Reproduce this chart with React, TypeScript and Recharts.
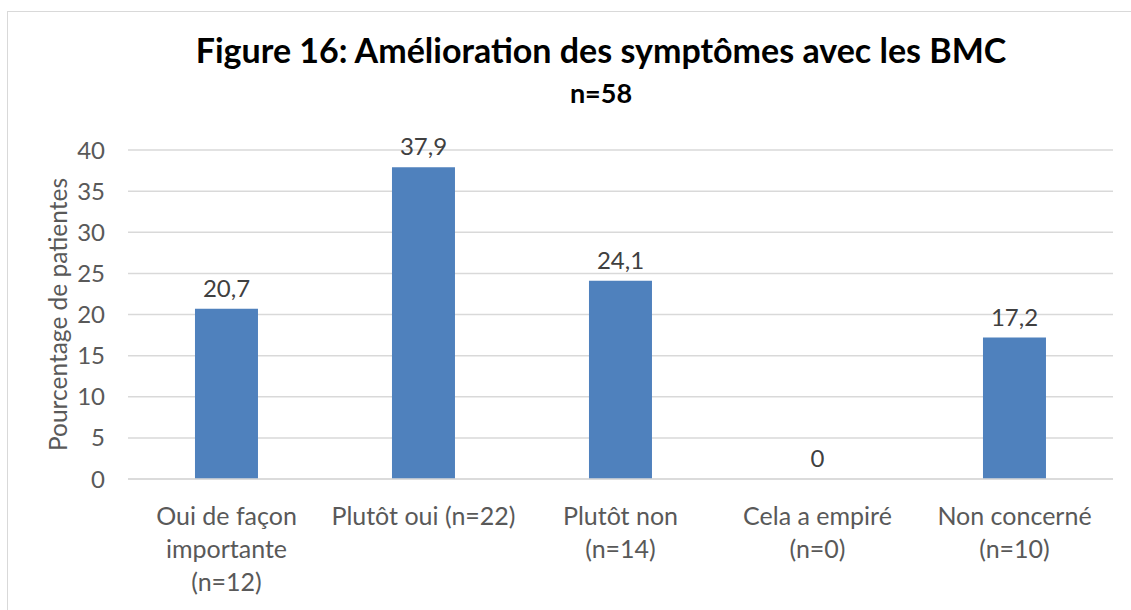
import { ComposedChart, Bar, Line, XAxis, YAxis, CartesianGrid, LabelList } from "recharts";

const categories = [
  "Oui de façon\nimportante\n(n=12)",
  "Plutôt oui (n=22)",
  "Plutôt non\n(n=14)",
  "Cela a empiré\n(n=0)",
  "Non concerné\n(n=10)",
];
const percentages = [20.7, 37.9, 24.1, 0, 17.2];
const yTicks = [0, 5, 10, 15, 20, 25, 30, 35, 40];

const rows = categories.map((name, i) => ({ name, value: percentages[i] }));

const FONT = "Lato, sans-serif";
const GRAY = "#595959";

function CategoryTick({ x, y, payload }: any) {
  const lines = String(payload.value).split("\n");
  return (
    <text x={x} y={y + 38} textAnchor="middle" fill={GRAY} fontSize={25} fontFamily={FONT}>
      {lines.map((l, i) => (
        <tspan key={i} x={x} dy={i === 0 ? 0 : 33}>
          {l}
        </tspan>
      ))}
    </text>
  );
}

export default function App() {
  return (
    <div style={{ position: "absolute", left: 0, top: 0, width: 1131, height: 610, background: "#fff" }}>
      <div
        style={{
          position: "absolute",
          left: 7,
          top: 11,
          width: 1124,
          height: 599,
          borderTop: "1px solid #d9d9d9",
          borderLeft: "1px solid #d9d9d9",
          boxSizing: "border-box",
        }}
      />
      <div
        style={{
          position: "absolute",
          left: 101,
          width: 1000,
          top: 30,
          textAlign: "center",
          fontFamily: FONT,
          fontWeight: 700,
          fontSize: 34,
          color: "#000",
          lineHeight: "40px",
          whiteSpace: "nowrap",
        }}
      >
        Figure 16: Amélioration des symptômes avec les BMC
      </div>
      <div
        style={{
          position: "absolute",
          left: 501,
          width: 200,
          top: 76,
          textAlign: "center",
          fontFamily: FONT,
          fontWeight: 700,
          fontSize: 27,
          color: "#000",
          lineHeight: "34px",
        }}
      >
        n=58
      </div>
      <div style={{ position: "absolute", left: 0, top: 0 }}>
        <ComposedChart
          width={1131}
          height={610}
          data={rows}
          margin={{ top: 150, right: 18, bottom: 101, left: 0 }}
          barCategoryGap="34%"
        >
          <CartesianGrid vertical={false} stroke="#d9d9d9" strokeWidth={1.5} />
          <XAxis
            dataKey="name"
            height={30}
            axisLine={{ stroke: "#d9d9d9", strokeWidth: 1.5 }}
            tickLine={false}
            interval={0}
            tick={<CategoryTick />}
          />
          <YAxis
            width={128}
            domain={[0, 40]}
            ticks={yTicks}
            axisLine={false}
            tickLine={false}
            tickMargin={17}
            tick={{ fill: GRAY, fontSize: 24, fontFamily: FONT }}
            label={{
              value: "Pourcentage de patientes",
              angle: -90,
              position: "center",
              dx: -6,
              fill: GRAY,
              fontSize: 24.5,
              fontFamily: FONT,
            }}
          />
          <Bar dataKey="value" fill="#4f81bd" isAnimationActive={false} />
          <Line
            dataKey="value"
            stroke="none"
            dot={false}
            activeDot={false}
            legendType="none"
            isAnimationActive={false}
          >
            <LabelList
              dataKey="value"
              position="top"
              offset={12}
              formatter={(v: any) => String(v).replace(".", ",")}
              fill="#404040"
              fontSize={24}
              fontFamily={FONT}
            />
          </Line>
        </ComposedChart>
      </div>
    </div>
  );
}
